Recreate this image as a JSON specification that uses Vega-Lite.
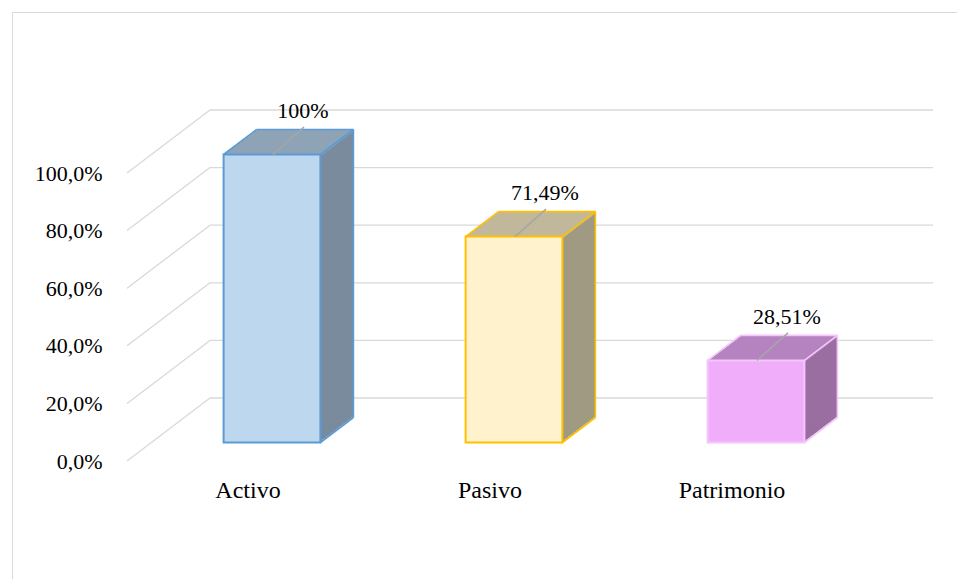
{
  "$schema": "https://vega.github.io/schema/vega-lite/v6.json",
  "width": 945,
  "height": 567,
  "autosize": "none",
  "padding": {"left": 12, "top": 12, "right": 0, "bottom": 0},
  "background": "white",
  "config": {"view": {"stroke": "#d9d9d9", "strokeWidth": 1}, "font": "'Liberation Serif', 'Times New Roman', 'DejaVu Serif', serif"},
  "datasets": {
    "bars": [
      {"cat": "Activo", "value": 100, "label": "100%"},
      {"cat": "Pasivo", "value": 71.49, "label": "71,49%"},
      {"cat": "Patrimonio", "value": 28.51, "label": "28,51%"}
    ],
    "grid": [{"v": 0}, {"v": 20}, {"v": 40}, {"v": 60}, {"v": 80}, {"v": 100}]
  },
  "data": {"name": "bars"},
  "encoding": {
    "x": {"field": "cat", "type": "nominal", "sort": null, "title": null,
      "scale": {"domain": ["Activo", "Pasivo", "Patrimonio"], "range": [139, 865], "paddingInner": 0.6, "paddingOuter": 0.3},
      "axis": {"title": null, "orient": "bottom", "domain": false, "ticks": false, "tickSize": 0, "labelPadding": 0, "offset": -82, "labelOffset": -24, "labelBaseline": "alphabetic", "labelFontSize": 24, "labelColor": "#000000", "labelFont": "'Liberation Serif', 'Times New Roman', 'DejaVu Serif', serif", "labelAngle": 0}},
    "y": {"field": "value", "type": "quantitative", "title": null,
      "scale": {"domain": [0, 100], "range": [449, 161], "nice": false, "zero": false},
      "axis": {"title": null, "values": [0, 20, 40, 60, 80, 100], "domain": false, "ticks": false, "tickSize": 0, "grid": false, "labelPadding": 0, "offset": -90, "labelExpr": "replace(format(datum.value, '.1f'), '.', ',') + '%'", "labelFontSize": 22, "labelColor": "#000000", "labelFont": "'Liberation Serif', 'Times New Roman', 'DejaVu Serif', serif", "labelBaseline": "middle"}}
  },
  "layer": [
    {"data": {"name": "grid"}, "mark": {"type": "rule", "color": "#d9d9d9", "strokeWidth": 1.3, "xOffset": -145, "x2Offset": -62, "y2Offset": -63},
      "encoding": {"x": {"datum": "Activo"}, "x2": {"datum": "Activo"}, "y": {"field": "v", "type": "quantitative", "title": null}, "y2": {"field": "v"}}},
    {"data": {"name": "grid"}, "mark": {"type": "rule", "color": "#d9d9d9", "strokeWidth": 1.3, "xOffset": -62, "x2Offset": 177, "yOffset": -63},
      "encoding": {"x": {"datum": "Activo"}, "x2": {"datum": "Patrimonio"}, "y": {"field": "v", "type": "quantitative", "title": null}}},

    {"mark": {"type": "bar", "xOffset": 1.94, "yOffset": -19.97, "y2Offset": -19.97}, "encoding": {"y2": {"datum": 0}, "color": {"field": "cat", "type": "nominal", "legend": null, "scale": {"domain": ["Activo", "Pasivo", "Patrimonio"], "range": ["#798b9c", "#a09a83", "#9a6ea0"]}}}},
    {"mark": {"type": "bar", "xOffset": 3.88, "yOffset": -21.44, "y2Offset": -21.44}, "encoding": {"y2": {"datum": 0}, "color": {"field": "cat", "type": "nominal", "legend": null, "scale": {"domain": ["Activo", "Pasivo", "Patrimonio"], "range": ["#798b9c", "#a09a83", "#9a6ea0"]}}}},
    {"mark": {"type": "bar", "xOffset": 5.82, "yOffset": -22.91, "y2Offset": -22.91}, "encoding": {"y2": {"datum": 0}, "color": {"field": "cat", "type": "nominal", "legend": null, "scale": {"domain": ["Activo", "Pasivo", "Patrimonio"], "range": ["#798b9c", "#a09a83", "#9a6ea0"]}}}},
    {"mark": {"type": "bar", "xOffset": 7.76, "yOffset": -24.38, "y2Offset": -24.38}, "encoding": {"y2": {"datum": 0}, "color": {"field": "cat", "type": "nominal", "legend": null, "scale": {"domain": ["Activo", "Pasivo", "Patrimonio"], "range": ["#798b9c", "#a09a83", "#9a6ea0"]}}}},
    {"mark": {"type": "bar", "xOffset": 9.71, "yOffset": -25.85, "y2Offset": -25.85}, "encoding": {"y2": {"datum": 0}, "color": {"field": "cat", "type": "nominal", "legend": null, "scale": {"domain": ["Activo", "Pasivo", "Patrimonio"], "range": ["#798b9c", "#a09a83", "#9a6ea0"]}}}},
    {"mark": {"type": "bar", "xOffset": 11.65, "yOffset": -27.32, "y2Offset": -27.32}, "encoding": {"y2": {"datum": 0}, "color": {"field": "cat", "type": "nominal", "legend": null, "scale": {"domain": ["Activo", "Pasivo", "Patrimonio"], "range": ["#798b9c", "#a09a83", "#9a6ea0"]}}}},
    {"mark": {"type": "bar", "xOffset": 13.59, "yOffset": -28.79, "y2Offset": -28.79}, "encoding": {"y2": {"datum": 0}, "color": {"field": "cat", "type": "nominal", "legend": null, "scale": {"domain": ["Activo", "Pasivo", "Patrimonio"], "range": ["#798b9c", "#a09a83", "#9a6ea0"]}}}},
    {"mark": {"type": "bar", "xOffset": 15.53, "yOffset": -30.26, "y2Offset": -30.26}, "encoding": {"y2": {"datum": 0}, "color": {"field": "cat", "type": "nominal", "legend": null, "scale": {"domain": ["Activo", "Pasivo", "Patrimonio"], "range": ["#798b9c", "#a09a83", "#9a6ea0"]}}}},
    {"mark": {"type": "bar", "xOffset": 17.47, "yOffset": -31.74, "y2Offset": -31.74}, "encoding": {"y2": {"datum": 0}, "color": {"field": "cat", "type": "nominal", "legend": null, "scale": {"domain": ["Activo", "Pasivo", "Patrimonio"], "range": ["#798b9c", "#a09a83", "#9a6ea0"]}}}},
    {"mark": {"type": "bar", "xOffset": 19.41, "yOffset": -33.21, "y2Offset": -33.21}, "encoding": {"y2": {"datum": 0}, "color": {"field": "cat", "type": "nominal", "legend": null, "scale": {"domain": ["Activo", "Pasivo", "Patrimonio"], "range": ["#798b9c", "#a09a83", "#9a6ea0"]}}}},
    {"mark": {"type": "bar", "xOffset": 21.35, "yOffset": -34.68, "y2Offset": -34.68}, "encoding": {"y2": {"datum": 0}, "color": {"field": "cat", "type": "nominal", "legend": null, "scale": {"domain": ["Activo", "Pasivo", "Patrimonio"], "range": ["#798b9c", "#a09a83", "#9a6ea0"]}}}},
    {"mark": {"type": "bar", "xOffset": 23.29, "yOffset": -36.15, "y2Offset": -36.15}, "encoding": {"y2": {"datum": 0}, "color": {"field": "cat", "type": "nominal", "legend": null, "scale": {"domain": ["Activo", "Pasivo", "Patrimonio"], "range": ["#798b9c", "#a09a83", "#9a6ea0"]}}}},
    {"mark": {"type": "bar", "xOffset": 25.24, "yOffset": -37.62, "y2Offset": -37.62}, "encoding": {"y2": {"datum": 0}, "color": {"field": "cat", "type": "nominal", "legend": null, "scale": {"domain": ["Activo", "Pasivo", "Patrimonio"], "range": ["#798b9c", "#a09a83", "#9a6ea0"]}}}},
    {"mark": {"type": "bar", "xOffset": 27.18, "yOffset": -39.09, "y2Offset": -39.09}, "encoding": {"y2": {"datum": 0}, "color": {"field": "cat", "type": "nominal", "legend": null, "scale": {"domain": ["Activo", "Pasivo", "Patrimonio"], "range": ["#798b9c", "#a09a83", "#9a6ea0"]}}}},
    {"mark": {"type": "bar", "xOffset": 29.12, "yOffset": -40.56, "y2Offset": -40.56}, "encoding": {"y2": {"datum": 0}, "color": {"field": "cat", "type": "nominal", "legend": null, "scale": {"domain": ["Activo", "Pasivo", "Patrimonio"], "range": ["#798b9c", "#a09a83", "#9a6ea0"]}}}},
    {"mark": {"type": "bar", "xOffset": 31.06, "yOffset": -42.03, "y2Offset": -42.03}, "encoding": {"y2": {"datum": 0}, "color": {"field": "cat", "type": "nominal", "legend": null, "scale": {"domain": ["Activo", "Pasivo", "Patrimonio"], "range": ["#798b9c", "#a09a83", "#9a6ea0"]}}}},
    {"mark": {"type": "bar", "xOffset": 33, "yOffset": -43.5, "y2Offset": -43.5}, "encoding": {"y2": {"datum": 0}, "color": {"field": "cat", "type": "nominal", "legend": null, "scale": {"domain": ["Activo", "Pasivo", "Patrimonio"], "range": ["#798b9c", "#a09a83", "#9a6ea0"]}}}},

    {"mark": {"type": "bar", "xOffset": 1.94, "yOffset": -19.97, "y2Offset": -17.47}, "encoding": {"y2": {"field": "value"}, "color": {"field": "cat", "type": "nominal", "legend": null, "scale": {"domain": ["Activo", "Pasivo", "Patrimonio"], "range": ["#8fa3b6", "#c1b89b", "#b583c0"]}}}},
    {"mark": {"type": "bar", "xOffset": 3.88, "yOffset": -21.44, "y2Offset": -18.94}, "encoding": {"y2": {"field": "value"}, "color": {"field": "cat", "type": "nominal", "legend": null, "scale": {"domain": ["Activo", "Pasivo", "Patrimonio"], "range": ["#8fa3b6", "#c1b89b", "#b583c0"]}}}},
    {"mark": {"type": "bar", "xOffset": 5.82, "yOffset": -22.91, "y2Offset": -20.41}, "encoding": {"y2": {"field": "value"}, "color": {"field": "cat", "type": "nominal", "legend": null, "scale": {"domain": ["Activo", "Pasivo", "Patrimonio"], "range": ["#8fa3b6", "#c1b89b", "#b583c0"]}}}},
    {"mark": {"type": "bar", "xOffset": 7.76, "yOffset": -24.38, "y2Offset": -21.88}, "encoding": {"y2": {"field": "value"}, "color": {"field": "cat", "type": "nominal", "legend": null, "scale": {"domain": ["Activo", "Pasivo", "Patrimonio"], "range": ["#8fa3b6", "#c1b89b", "#b583c0"]}}}},
    {"mark": {"type": "bar", "xOffset": 9.71, "yOffset": -25.85, "y2Offset": -23.35}, "encoding": {"y2": {"field": "value"}, "color": {"field": "cat", "type": "nominal", "legend": null, "scale": {"domain": ["Activo", "Pasivo", "Patrimonio"], "range": ["#8fa3b6", "#c1b89b", "#b583c0"]}}}},
    {"mark": {"type": "bar", "xOffset": 11.65, "yOffset": -27.32, "y2Offset": -24.82}, "encoding": {"y2": {"field": "value"}, "color": {"field": "cat", "type": "nominal", "legend": null, "scale": {"domain": ["Activo", "Pasivo", "Patrimonio"], "range": ["#8fa3b6", "#c1b89b", "#b583c0"]}}}},
    {"mark": {"type": "bar", "xOffset": 13.59, "yOffset": -28.79, "y2Offset": -26.29}, "encoding": {"y2": {"field": "value"}, "color": {"field": "cat", "type": "nominal", "legend": null, "scale": {"domain": ["Activo", "Pasivo", "Patrimonio"], "range": ["#8fa3b6", "#c1b89b", "#b583c0"]}}}},
    {"mark": {"type": "bar", "xOffset": 15.53, "yOffset": -30.26, "y2Offset": -27.76}, "encoding": {"y2": {"field": "value"}, "color": {"field": "cat", "type": "nominal", "legend": null, "scale": {"domain": ["Activo", "Pasivo", "Patrimonio"], "range": ["#8fa3b6", "#c1b89b", "#b583c0"]}}}},
    {"mark": {"type": "bar", "xOffset": 17.47, "yOffset": -31.74, "y2Offset": -29.24}, "encoding": {"y2": {"field": "value"}, "color": {"field": "cat", "type": "nominal", "legend": null, "scale": {"domain": ["Activo", "Pasivo", "Patrimonio"], "range": ["#8fa3b6", "#c1b89b", "#b583c0"]}}}},
    {"mark": {"type": "bar", "xOffset": 19.41, "yOffset": -33.21, "y2Offset": -30.71}, "encoding": {"y2": {"field": "value"}, "color": {"field": "cat", "type": "nominal", "legend": null, "scale": {"domain": ["Activo", "Pasivo", "Patrimonio"], "range": ["#8fa3b6", "#c1b89b", "#b583c0"]}}}},
    {"mark": {"type": "bar", "xOffset": 21.35, "yOffset": -34.68, "y2Offset": -32.18}, "encoding": {"y2": {"field": "value"}, "color": {"field": "cat", "type": "nominal", "legend": null, "scale": {"domain": ["Activo", "Pasivo", "Patrimonio"], "range": ["#8fa3b6", "#c1b89b", "#b583c0"]}}}},
    {"mark": {"type": "bar", "xOffset": 23.29, "yOffset": -36.15, "y2Offset": -33.65}, "encoding": {"y2": {"field": "value"}, "color": {"field": "cat", "type": "nominal", "legend": null, "scale": {"domain": ["Activo", "Pasivo", "Patrimonio"], "range": ["#8fa3b6", "#c1b89b", "#b583c0"]}}}},
    {"mark": {"type": "bar", "xOffset": 25.24, "yOffset": -37.62, "y2Offset": -35.12}, "encoding": {"y2": {"field": "value"}, "color": {"field": "cat", "type": "nominal", "legend": null, "scale": {"domain": ["Activo", "Pasivo", "Patrimonio"], "range": ["#8fa3b6", "#c1b89b", "#b583c0"]}}}},
    {"mark": {"type": "bar", "xOffset": 27.18, "yOffset": -39.09, "y2Offset": -36.59}, "encoding": {"y2": {"field": "value"}, "color": {"field": "cat", "type": "nominal", "legend": null, "scale": {"domain": ["Activo", "Pasivo", "Patrimonio"], "range": ["#8fa3b6", "#c1b89b", "#b583c0"]}}}},
    {"mark": {"type": "bar", "xOffset": 29.12, "yOffset": -40.56, "y2Offset": -38.06}, "encoding": {"y2": {"field": "value"}, "color": {"field": "cat", "type": "nominal", "legend": null, "scale": {"domain": ["Activo", "Pasivo", "Patrimonio"], "range": ["#8fa3b6", "#c1b89b", "#b583c0"]}}}},
    {"mark": {"type": "bar", "xOffset": 31.06, "yOffset": -42.03, "y2Offset": -39.53}, "encoding": {"y2": {"field": "value"}, "color": {"field": "cat", "type": "nominal", "legend": null, "scale": {"domain": ["Activo", "Pasivo", "Patrimonio"], "range": ["#8fa3b6", "#c1b89b", "#b583c0"]}}}},
    {"mark": {"type": "bar", "xOffset": 33, "yOffset": -43.5, "y2Offset": -41}, "encoding": {"y2": {"field": "value"}, "color": {"field": "cat", "type": "nominal", "legend": null, "scale": {"domain": ["Activo", "Pasivo", "Patrimonio"], "range": ["#8fa3b6", "#c1b89b", "#b583c0"]}}}},

    {"mark": {"type": "bar", "yOffset": -18.5, "y2Offset": -18.5, "strokeWidth": 2},
      "encoding": {"y2": {"datum": 0},
        "color": {"field": "cat", "type": "nominal", "legend": null, "scale": {"domain": ["Activo", "Pasivo", "Patrimonio"], "range": ["#bdd7ee", "#fff2cc", "#f0aefa"]}},
        "stroke": {"field": "cat", "type": "nominal", "legend": null, "scale": {"domain": ["Activo", "Pasivo", "Patrimonio"], "range": ["#5b9bd5", "#ffc000", "#f5c6fb"]}}}},

    {"mark": {"type": "rule", "strokeWidth": 1.6, "xOffset": -48.4, "x2Offset": -15.4, "yOffset": -18.5, "y2Offset": -43.5},
      "encoding": {"x2": {"field": "cat"}, "y2": {"field": "value"}, "color": {"field": "cat", "type": "nominal", "legend": null, "scale": {"domain": ["Activo", "Pasivo", "Patrimonio"], "range": ["#5b9bd5", "#ffc000", "#f5c6fb"]}}}},
    {"mark": {"type": "rule", "strokeWidth": 1.6, "xOffset": 48.4, "x2Offset": 81.4, "yOffset": -18.5, "y2Offset": -43.5},
      "encoding": {"x2": {"field": "cat"}, "y2": {"field": "value"}, "color": {"field": "cat", "type": "nominal", "legend": null, "scale": {"domain": ["Activo", "Pasivo", "Patrimonio"], "range": ["#5b9bd5", "#ffc000", "#f5c6fb"]}}}},
    {"mark": {"type": "rule", "strokeWidth": 1.6, "xOffset": -15.4, "x2Offset": 81.4, "yOffset": -43.5, "y2Offset": -43.5},
      "encoding": {"x2": {"field": "cat"}, "y2": {"field": "value"}, "color": {"field": "cat", "type": "nominal", "legend": null, "scale": {"domain": ["Activo", "Pasivo", "Patrimonio"], "range": ["#5b9bd5", "#ffc000", "#f5c6fb"]}}}},
    {"mark": {"type": "rule", "strokeWidth": 1.6, "xOffset": 81.4, "x2Offset": 81.4, "yOffset": -43.5, "y2Offset": -43.5},
      "encoding": {"x2": {"field": "cat"}, "y2": {"datum": 0}, "color": {"field": "cat", "type": "nominal", "legend": null, "scale": {"domain": ["Activo", "Pasivo", "Patrimonio"], "range": ["#5b9bd5", "#ffc000", "#f5c6fb"]}}}},
    {"mark": {"type": "rule", "strokeWidth": 1.6, "xOffset": 48.4, "x2Offset": 81.4, "yOffset": -18.5, "y2Offset": -43.5},
      "encoding": {"x2": {"field": "cat"}, "y": {"datum": 0}, "y2": {"datum": 0}, "color": {"field": "cat", "type": "nominal", "legend": null, "scale": {"domain": ["Activo", "Pasivo", "Patrimonio"], "range": ["#5b9bd5", "#ffc000", "#f5c6fb"]}}}},

    {"mark": {"type": "rule", "color": "#a6a6a6", "strokeWidth": 1.5, "xOffset": 1, "x2Offset": 32, "yOffset": -18.5, "y2Offset": -46},
      "encoding": {"x2": {"field": "cat"}, "y2": {"field": "value"}}},
    {"mark": {"type": "text", "dx": 31, "dy": -55, "baseline": "alphabetic", "align": "center", "fontSize": 22, "font": "'Liberation Serif', 'Times New Roman', 'DejaVu Serif', serif", "color": "#000000"},
      "encoding": {"text": {"field": "label", "type": "nominal"}}}
  ],
  "resolve": {"scale": {"color": "independent", "stroke": "independent"}}
}
